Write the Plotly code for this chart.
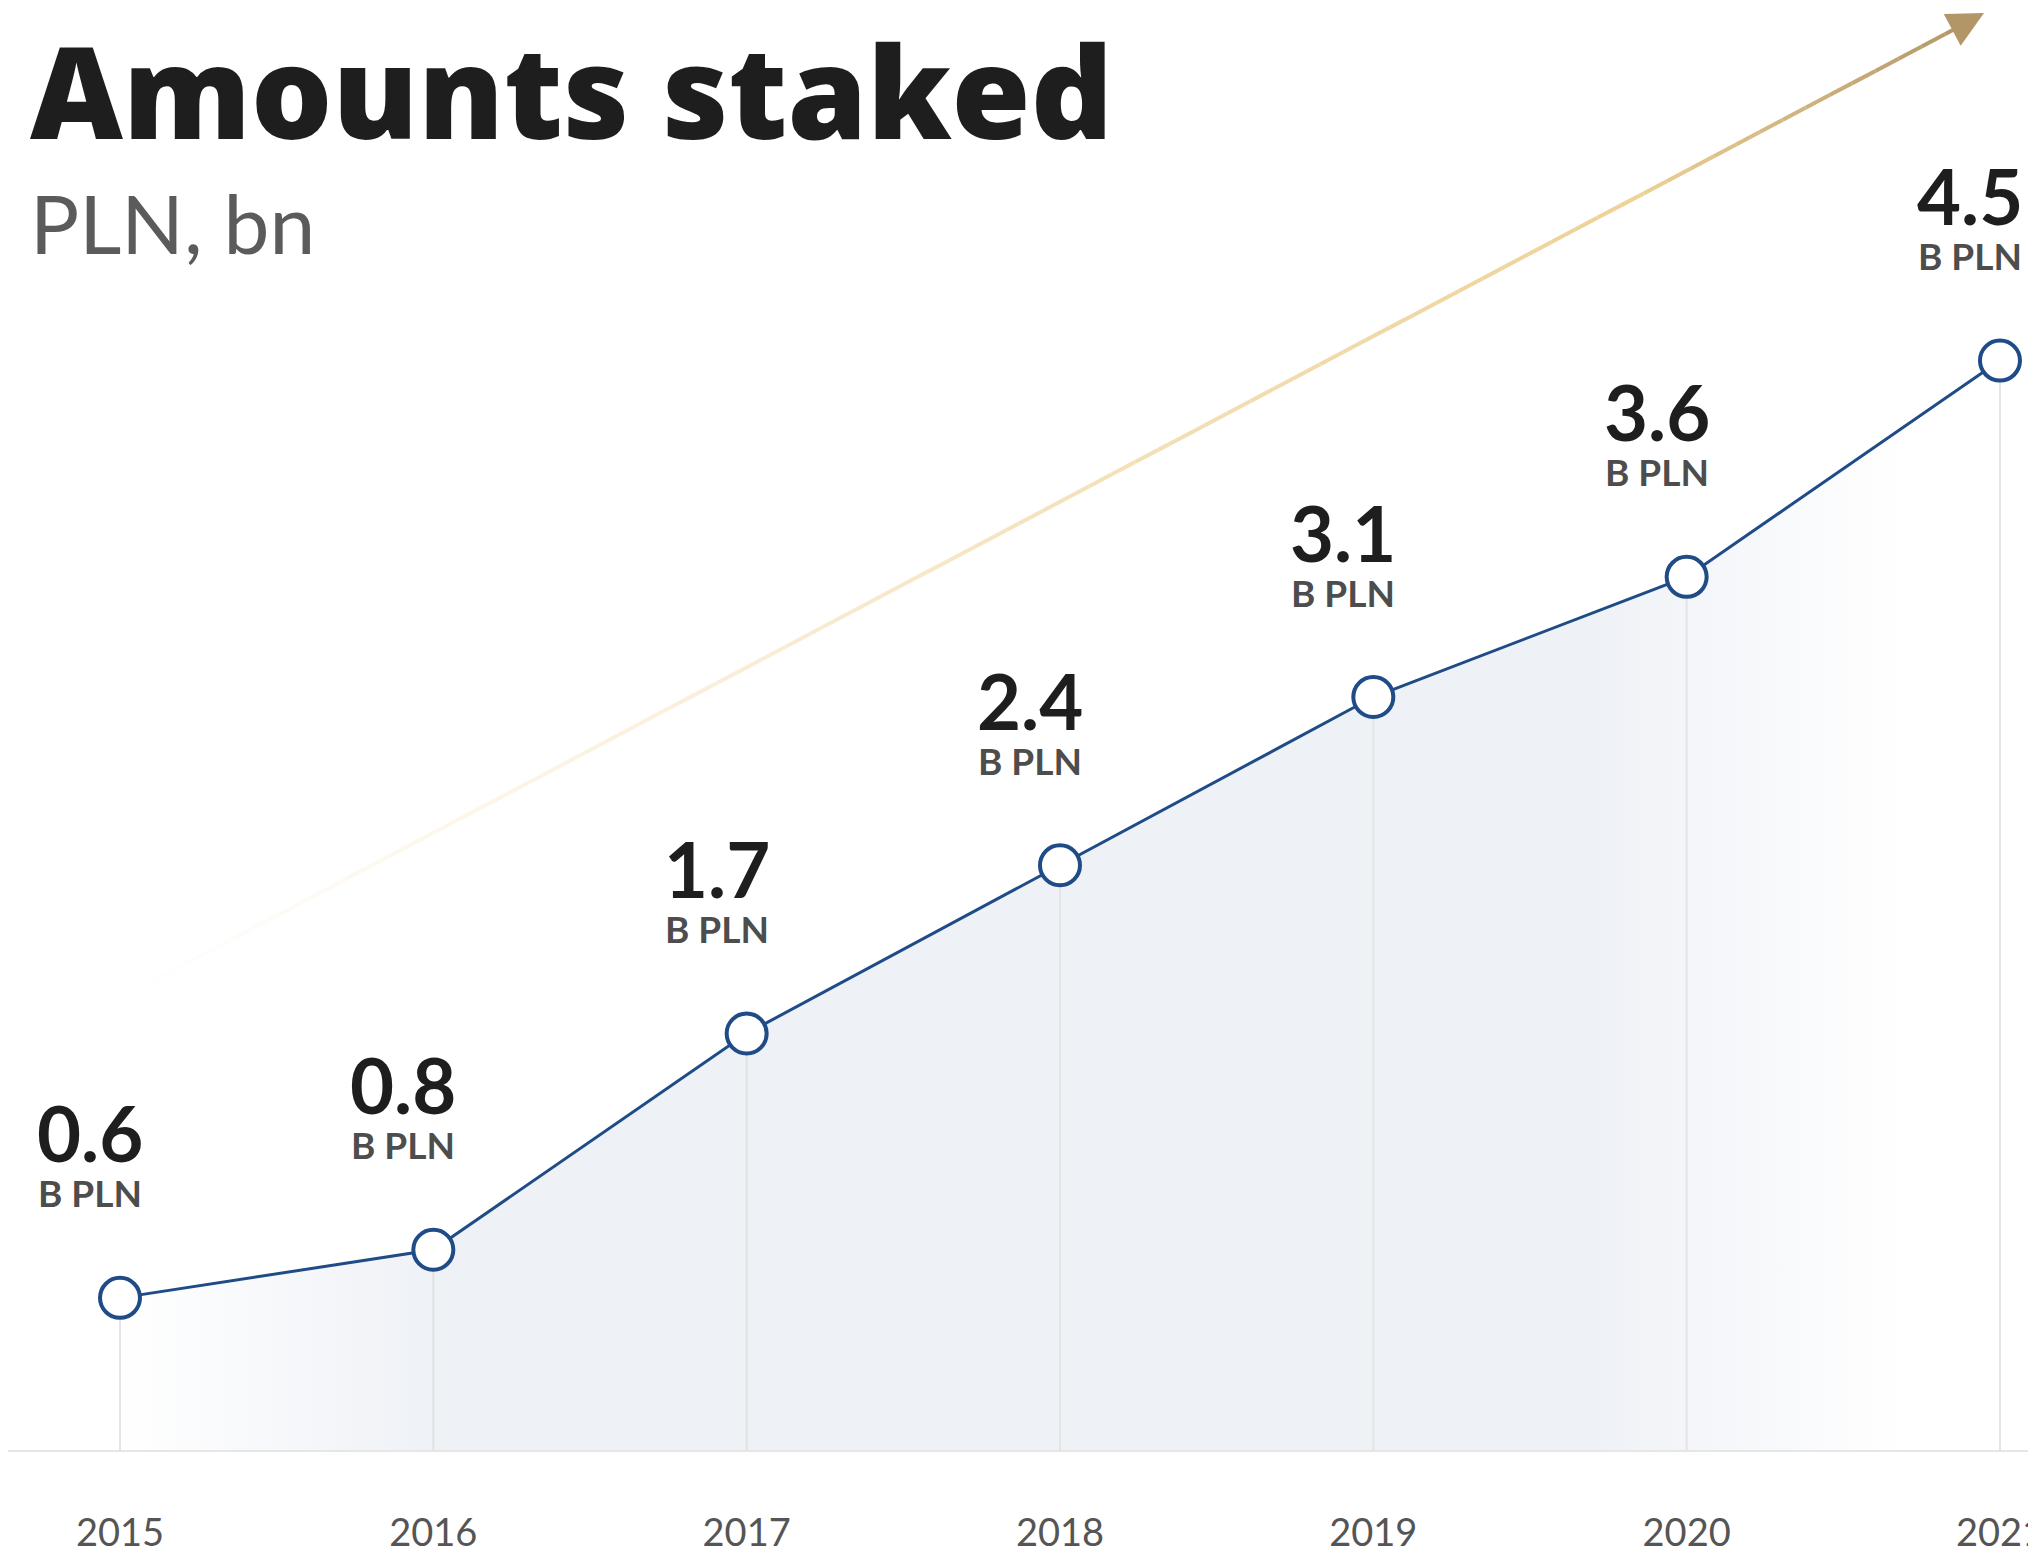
import plotly.graph_objects as go

# data
years = [2015, 2016, 2017, 2018, 2019, 2020, 2021]
amounts = [0.6, 0.8, 1.7, 2.4, 3.1, 3.6, 4.5]
value_labels = ["0.6", "0.8", "1.7", "2.4", "3.1", "3.6", "4.5"]
unit_label = "B PLN"
tick_labels = ["2015", "2016", "2017", "2018", "2019", "2020", "2021"]

# page body has an 8px margin, so the figure is a bit smaller than the window
W, H = 2028, 1547
Y_MIN = -0.033
BLUE = "#1f4b87"


def px(x):  # page x -> paper x
    return (x - 8) / W


def py(y):  # page y -> paper y (plot area ends at page y 1450)
    return (1450 - y) / 1442


fig = go.Figure()

# base trace for the fill to sit on
fig.add_trace(go.Scatter(
    x=years, y=[Y_MIN] * len(years), mode="lines",
    line=dict(width=0), hoverinfo="skip", showlegend=False
))

# shaded area under the line (fades at both ends)
fig.add_trace(go.Scatter(
    x=years, y=amounts, mode="lines", fill="tonexty",
    line=dict(width=0), hoverinfo="skip", showlegend=False,
    fillgradient=dict(
        type="horizontal",
        colorscale=[
            [0.0, "rgba(238,241,246,0)"],
            [0.17, "rgba(238,241,246,1)"],
            [0.78, "rgba(238,241,246,1)"],
            [0.95, "rgba(238,241,246,0)"],
            [1.0, "rgba(238,241,246,0)"],
        ],
    ),
))

# drop lines from each point to the base
drop_x, drop_y = [], []
for yr, v in zip(years, amounts):
    drop_x += [yr, yr, None]
    drop_y += [Y_MIN, v, None]
fig.add_trace(go.Scatter(
    x=drop_x, y=drop_y, mode="lines",
    line=dict(color="#e3e3e3", width=2), hoverinfo="skip", showlegend=False
))

# main line with open circle markers
fig.add_trace(go.Scatter(
    x=years, y=amounts, mode="lines+markers",
    line=dict(color=BLUE, width=3),
    marker=dict(size=40, color="white", line=dict(color=BLUE, width=4)),
    showlegend=False
))

# value labels
for yr, v, lab in zip(years, amounts, value_labels):
    fig.add_annotation(
        x=yr, y=v, xref="x", yref="y", text=lab, showarrow=False,
        xshift=-30, yshift=165, yanchor="middle",
        font=dict(family="Lato", size=76, color="#1e1e1e", weight="bold")
    )
    fig.add_annotation(
        x=yr, y=v, xref="x", yref="y", text=unit_label, showarrow=False,
        xshift=-30, yshift=105, yanchor="middle",
        font=dict(family="Lato", size=37, color="#4d4d4d", weight="bold")
    )

# growth arrow (gradient drawn as short segments)
x0, y0 = px(117), py(1000)
x1, y1 = px(1968), py(22)
stops = [
    (0.0, (250, 240, 220, 0.0)),
    (0.2, (250, 236, 210, 0.5)),
    (0.5, (245, 227, 191, 1.0)),
    (0.82, (238, 210, 150, 1.0)),
    (1.0, (179, 150, 104, 1.0)),
]


def col(t):
    for (ta, ca), (tb, cb) in zip(stops[:-1], stops[1:]):
        if ta <= t <= tb:
            f = (t - ta) / (tb - ta)
            c = [ca[i] + (cb[i] - ca[i]) * f for i in range(4)]
            return "rgba(%d,%d,%d,%.3f)" % (c[0], c[1], c[2], c[3])
    return "rgba(179,150,104,1)"


n = 80
for i in range(n):
    ta, tb = i / n, (i + 1) / n
    fig.add_shape(
        type="line", xref="paper", yref="paper",
        x0=x0 + (x1 - x0) * ta, y0=y0 + (y1 - y0) * ta,
        x1=x0 + (x1 - x0) * tb, y1=y0 + (y1 - y0) * tb,
        line=dict(color=col((ta + tb) / 2), width=4), layer="below"
    )
fig.add_annotation(
    x=px(1984), y=py(13), xref="paper", yref="paper",
    ax=-30, ay=16, showarrow=True, arrowhead=2, arrowsize=1.8,
    arrowwidth=4, arrowcolor="#b39668", text=""
)

# title + subtitle
fig.add_annotation(
    x=px(28), y=py(90), xref="paper", yref="paper",
    text="Amounts staked", showarrow=False, xanchor="left", yanchor="middle",
    font=dict(family="Open Sans", size=128, color="#1e1e1e", weight=800)
)
fig.add_annotation(
    x=px(28), y=py(222), xref="paper", yref="paper",
    text="PLN, bn", showarrow=False, xanchor="left", yanchor="middle",
    font=dict(family="Lato", size=82, color="#5b5b5b")
)

fig.update_layout(
    width=W, height=H,
    margin=dict(l=0, r=0, t=0, b=105),
    plot_bgcolor="white", paper_bgcolor="white",
    xaxis=dict(
        range=[2015 - 112 / 313.33, 2015 + 1916 / 313.33],
        tickvals=years, ticktext=tick_labels,
        showgrid=False, zeroline=False, automargin=False,
        showline=True, linecolor="#e6e6e6", linewidth=2,
        ticks="", ticklabelstandoff=48, ticklabeloverflow="allow",
        tickfont=dict(family="Lato", size=38, color="#555555"),
    ),
    yaxis=dict(
        range=[Y_MIN, 5.967], visible=False, showgrid=False, zeroline=False,
        automargin=False,
    ),
)

fig.write_html("out.html")
